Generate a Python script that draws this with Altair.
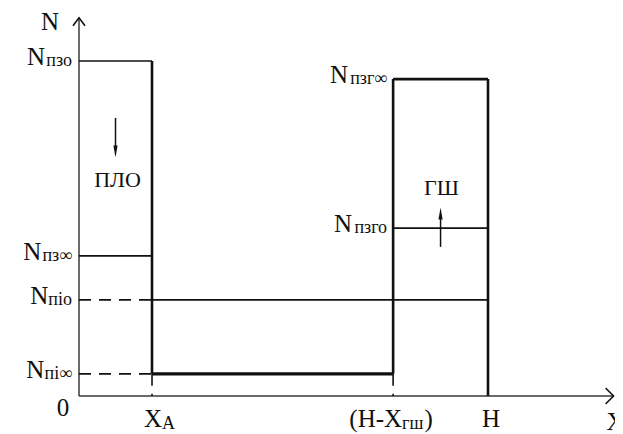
import altair as alt
import pandas as pd

# ---- semantic values (x: H = 10 units, y: N_пзо = 10 units) ----
XA = 1.785          # X_A
HX = 7.68           # H - X_гш
H = 10.0            # H
X_END = 13.07       # end of X axis arrow
Y_END = 11.29       # end of N axis arrow

LEFT_SUBS = ["пзо", "пз∞", "піо", "пі∞"]
LEFT_VALUES = [10.0, 4.18, 2.87, 0.66]
RIGHT_SUBS = ["пзг∞", "пзго"]
RIGHT_VALUES = [9.46, 5.01]

N_PZO, N_PZINF, N_PIO, N_PIINF = LEFT_VALUES
N_PZGINF, N_PZGO = RIGHT_VALUES

FONT = "'Liberation Serif', 'Times New Roman', serif"
INK = "#111111"
AX = "#3a3a3a"
BIG = 25
SUB = 18

xs = alt.Scale(domain=[-1.736, 13.105], nice=False, zero=False)
ys = alt.Scale(domain=[-1.135, 11.582], nice=False, zero=False)

CHAR_W = {"п": 0.54, "з": 0.45, "о": 0.5, "і": 0.28, "г": 0.46, "∞": 0.72,
          "ш": 0.78, "A": 0.72}


def sub_width(s, size=SUB):
    return sum(CHAR_W.get(c, 0.5) for c in s) * size


def segs(rows, width, dash=None, color=INK):
    df = pd.DataFrame(rows, columns=["x", "y", "x2", "y2"])
    kw = dict(color=color, strokeWidth=width)
    if dash:
        kw["strokeDash"] = dash
    return alt.Chart(df).mark_rule(**kw).encode(
        x=alt.X("x:Q", scale=xs, axis=None),
        y=alt.Y("y:Q", scale=ys, axis=None),
        x2="x2:Q", y2="y2:Q")


def txt(xv, yv, s, size=BIG, align="center", baseline="alphabetic", dx=0, dy=0):
    df = pd.DataFrame({"x": [xv], "y": [yv], "t": [s]})
    return alt.Chart(df).mark_text(
        font=FONT, fontSize=size, align=align, baseline=baseline,
        dx=dx, dy=dy, color=INK).encode(
        x=alt.X("x:Q", scale=xs, axis=None),
        y=alt.Y("y:Q", scale=ys, axis=None),
        text="t:N")


def pt(xv, yv, shape, size, filled, width=1.5):
    df = pd.DataFrame({"x": [xv], "y": [yv]})
    return alt.Chart(df).mark_point(
        shape=shape, size=size, filled=filled, opacity=1, color=INK,
        strokeWidth=width).encode(
        x=alt.X("x:Q", scale=xs, axis=None),
        y=alt.Y("y:Q", scale=ys, axis=None))


layers = []

# axes
layers.append(segs([(0, 0, X_END, 0), (0, 0, 0, Y_END)], 1.5, color=AX))
layers.append(pt(X_END, 0, "M-1,-1L0,0L-1,1", 256, False, 1.6))
layers.append(pt(0, Y_END, "M-0.75,1L0,0L0.75,1", 256, False, 1.6))

# thin solid lines
layers.append(segs([
    (0, N_PZO, XA, N_PZO),
    (0, N_PZINF, XA, N_PZINF),
    (XA, N_PIO, H, N_PIO),
    (HX, N_PZGO, H, N_PZGO),
], 1.7))

# thick lines
layers.append(segs([
    (XA, N_PZO, XA, N_PIINF),
    (HX, N_PZGINF, HX, N_PIINF),
    (H, N_PZGINF, H, 0),
    (HX, N_PZGINF, H, N_PZGINF),
], 2.6))
layers.append(segs([(XA, N_PIINF, HX, N_PIINF)], 3.2))

# dashed lines
layers.append(segs([
    (0, N_PIO, XA, N_PIO),
    (0, N_PIINF, XA, N_PIINF),
    (XA, N_PIINF, XA, 0),
    (HX, N_PIINF, HX, 0),
], 1.6, dash=[12, 8]))

# arrows inside the boxes
layers.append(segs([(XA / 2, 8.30, XA / 2, 7.45), ((HX + H) / 2, 4.45, (HX + H) / 2, 5.30)], 1.5))
layers.append(pt(XA / 2, 7.12, "M0,0L-0.35,-2L0.35,-2Z", 144, True))
layers.append(pt((HX + H) / 2, 5.63, "M0,0L-0.35,2L0.35,2Z", 144, True))

# box captions
layers.append(txt(XA / 2, 6.45, "ПЛО", size=22, baseline="middle", dx=2))
layers.append(txt((HX + H) / 2, 6.21, "ГШ", size=22, baseline="middle", dx=1))

# level labels, left of the N axis
for s, v in zip(LEFT_SUBS, LEFT_VALUES):
    w = sub_width(s)
    layers.append(txt(0, v, "N", align="right", dx=-7 - w, dy=4))
    layers.append(txt(0, v, s, size=SUB, align="right", dx=-7, dy=5))

# level labels, left of the right box
for s, v in zip(RIGHT_SUBS, RIGHT_VALUES):
    w = sub_width(s)
    layers.append(txt(HX, v, "N", align="right", dx=-6 - w, dy=4))
    layers.append(txt(HX, v, s, size=SUB, align="right", dx=-6, dy=5))

# x tick labels
layers.append(txt(0, 0, "0", align="center", baseline="middle", dx=-16, dy=12))
layers.append(txt(XA, 0, "X", align="right", dx=10, dy=31))
layers.append(txt(XA, 0, "A", size=SUB, align="left", dx=10, dy=33))
layers.append(txt(HX, 0, "(H-X", align="right", dx=9, dy=31))
layers.append(txt(HX, 0, "гш", size=SUB, align="left", dx=9, dy=33))
layers.append(txt(HX, 0, ")", align="left", dx=9 + sub_width("гш"), dy=31))
layers.append(txt(H, 0, "H", align="center", dx=3, dy=31))

# axis titles
layers.append(txt(0, Y_END, "N", align="center", baseline="middle", dx=-29, dy=4))
layers.append(txt(X_END, 0, "X", align="left", dx=-7, dy=34))

chart = alt.layer(*layers).properties(
    width=607, height=426,
    padding=0,
    autosize=alt.AutoSizeParams(type="none"),
    background="white",
).configure_view(stroke=None)

chart.save("out.html", embed_options={"renderer": "svg", "actions": False})
